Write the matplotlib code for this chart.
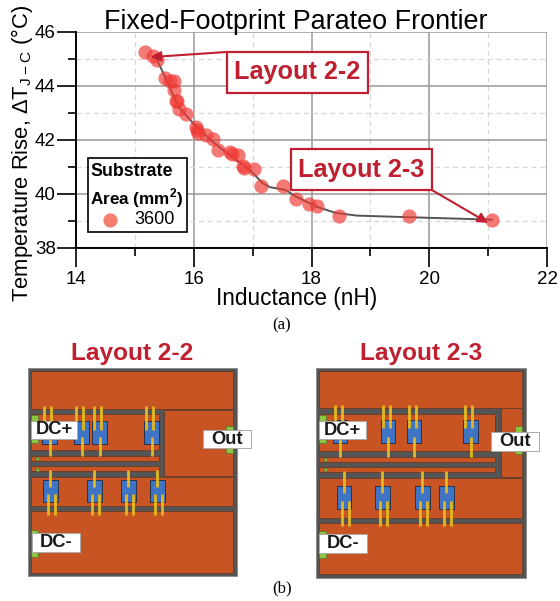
import matplotlib
matplotlib.use('Agg')
import matplotlib.pyplot as plt
from matplotlib.patches import Rectangle

plt.rcParams['font.family'] = ['Liberation Sans', 'DejaVu Sans']
plt.rcParams['mathtext.fontset'] = 'custom'
plt.rcParams['mathtext.rm'] = 'Liberation Sans'
plt.rcParams['mathtext.bf'] = 'Liberation Sans:bold'

inductance = [15.18, 15.30, 15.38, 15.52, 15.59, 15.67, 15.67, 15.70, 15.72, 15.75, 15.86,
              16.04, 16.06, 16.08, 16.21, 16.32, 16.42, 16.62, 16.65, 16.76, 16.83, 16.86,
              17.02, 17.15, 17.51, 17.73, 17.96, 18.10, 18.47, 19.65, 21.07]
temp_rise = [45.26, 45.10, 44.95, 44.31, 44.20, 44.19, 43.86, 43.45, 43.43, 43.16, 42.98,
             42.48, 42.38, 42.26, 42.20, 42.02, 41.64, 41.56, 41.50, 41.43, 41.03, 40.96,
             40.91, 40.28, 40.28, 39.83, 39.64, 39.54, 39.19, 39.18, 39.05]
front_x = [15.38, 15.50, 15.74, 15.99, 16.35, 16.65, 16.96, 17.17, 17.30, 17.56, 17.74, 18.10,
           18.41, 18.77, 19.65, 21.07]
front_y = [44.95, 44.40, 43.23, 42.62, 41.88, 41.38, 40.88, 40.40, 40.25, 40.15, 39.90, 39.52,
           39.30, 39.20, 39.14, 39.05]
x_ticks = [14, 16, 18, 20, 22]
y_ticks = [38, 40, 42, 44, 46]
x_minor = [15, 17, 19, 21]
y_minor = [39, 41, 43, 45]

layout_22 = {
    'offset': (0, 335), 'outer': (84, 710, 98, 724), 'title_x': 397,
    'copper': [(93, 700, 108, 223), (491, 700, 224, 424), (93, 476, 238, 346), (93, 476, 362, 377),
               (93, 476, 393, 408), (93, 700, 425, 513), (93, 700, 528, 715)],
    'pads': [(93, 115, 241, 323), (93, 115, 584, 665), (678, 700, 272, 355), (109, 117, 367, 376), (109, 117, 398, 407)],
    'top_chips': [127, 223, 277, 433], 'top_y': (259, 326),
    'bot_chips': [130, 262, 364, 451], 'bot_y': (434, 502),
    'top_pair_y': (213, 285), 'top_one_y': (305, 363), 'bot_one_y': (406, 455), 'bot_pair_y': (478, 539),
    'labels': [('DC+', 94, 232, 258, 312), ('Out', 610, 753, 284, 340), ('DC-', 97, 240, 595, 651)],
    'name': 'Layout 2-2',
}
layout_23 = {
    'offset': (280, 335), 'outer': (107, 737, 98, 728), 'title_x': 423,
    'copper': [(117, 727, 108, 218), (663, 727, 218, 427), (117, 646, 236, 348), (117, 646, 365, 380),
               (117, 646, 396, 411), (117, 727, 428, 548), (117, 727, 565, 718)],
    'pads': [(117, 139, 241, 325), (117, 139, 587, 669), (706, 727, 274, 356), (133, 141, 369, 378), (133, 141, 400, 409)],
    'top_chips': [158, 303, 380, 550], 'top_y': (256, 325),
    'bot_chips': [170, 286, 406, 478], 'bot_y': (454, 522),
    'top_pair_y': (209, 280), 'top_one_y': (305, 366), 'bot_one_y': (409, 475), 'bot_pair_y': (497, 574),
    'labels': [('DC+', 118, 258, 259, 313), ('Out', 632, 776, 290, 347), ('DC-', 118, 260, 598, 654)],
    'name': 'Layout 2-3',
}

CRIMSON = '#c01f30'

fig = plt.figure(figsize=(5.6, 6.01), dpi=100)
W, H = 560, 601
ax = fig.add_axes([76 / W, 1 - 248 / H, 471 / W, 216 / H])
ax.set_xlim(14, 22)
ax.set_ylim(38, 46)
ax.set_xticks(x_ticks)
ax.set_yticks(y_ticks)
ax.set_xticks(x_minor, minor=True)
ax.set_yticks(y_minor, minor=True)
ax.grid(True, which='major', color='#999999', lw=1.1)
ax.grid(True, which='minor', color='#d6d6d6', lw=0.9, ls=(0, (4, 3)))
ax.set_axisbelow(True)
ax.spines['top'].set_visible(False)
ax.spines['right'].set_visible(False)
ax.spines['left'].set_linewidth(1.4)
ax.spines['bottom'].set_linewidth(1.4)
ax.tick_params(which='major', length=13.5, width=1.2, labelsize=13.5, pad=1)
ax.tick_params(which='minor', length=6, width=1.2)
ax.tick_params(axis='x', which='major', pad=3)
ax.plot(front_x, front_y, color='#555555', lw=1.4, zorder=3)
ax.scatter(inductance, temp_rise, s=105, color='#ef3b36', alpha=0.68, linewidths=0, zorder=4, clip_on=False)
ax.annotate('', xy=(15.27, 45.07), xytext=(16.56, 45.26), zorder=6,
            arrowprops=dict(arrowstyle='-|>,head_length=0.6,head_width=0.3', color=CRIMSON, lw=1.5, shrinkA=0, shrinkB=0))
ax.annotate('', xy=(21.0, 38.93), xytext=(20.05, 40.14), zorder=6,
            arrowprops=dict(arrowstyle='-|>,head_length=0.6,head_width=0.3', color=CRIMSON, lw=1.5, shrinkA=0, shrinkB=0))

# pixel overlay for titles, boxes and the two schematics
ov = fig.add_axes([0, 0, 1, 1])
ov.set_xlim(0, W)
ov.set_ylim(H, 0)
ov.axis('off')
ov.patch.set_alpha(0)


def box(x0, x1, y0, y1, **kw):
    ov.add_patch(Rectangle((x0, y0), x1 - x0, y1 - y0, **kw))


ov.text(296, 22, 'Fixed-Footprint Parateo Frontier', fontsize=19.4, ha='center', va='center')
ov.text(297, 299, 'Inductance (nH)', fontsize=16.3, ha='center', va='center')
ov.text(22, 153, 'Temperature Rise, \u0394T$_{\\mathrm{J-C}}$ (\u00b0C)', fontsize=15.8, rotation=90, ha='center', va='center')
ov.text(282, 325, '(a)', fontsize=12, family='Liberation Serif', ha='center', va='center')
ov.text(282, 588, '(b)', fontsize=12, family='Liberation Serif', ha='center', va='center')

for name, x0, x1, y0, y1 in [('Layout 2-2', 227, 368, 52, 93), ('Layout 2-3', 291, 432, 149, 190)]:
    box(x0, x1, y0, y1, fc='white', ec=CRIMSON, lw=1.6, zorder=5)
    ov.text((x0 + x1) / 2, (y0 + y1) / 2, name, color=CRIMSON, fontsize=18.2, fontweight='bold',
            ha='center', va='center', zorder=6)

box(87.5, 187, 158, 232, fc='white', ec='black', lw=1.2, zorder=5)
ov.text(90, 172, 'Substrate', fontsize=12.8, fontweight='bold', va='center', zorder=6)
ov.text(90, 198, 'Area (mm$^{\\mathbf{2}}$)', fontsize=12.3, fontweight='bold', va='center', zorder=6)
ov.scatter([110], [220], s=105, color='#f6806f', linewidths=0, zorder=6)
ov.text(155, 220, '3600', fontsize=13, ha='center', va='center', zorder=6)


def draw_layout(lay):
    ox, oy = lay['offset']

    def zbox(x0, x1, y0, y1, **kw):
        box(ox + x0 / 3, ox + x1 / 3, oy + y0 / 3, oy + y1 / 3, **kw)

    def wire(x, ys):
        ov.plot([ox + x / 3, ox + x / 3], [oy + ys[0] / 3, oy + ys[1] / 3], color='#e3b81e', lw=2.0,
                solid_capstyle='butt', zorder=5)

    a, b, c, d = lay['outer']
    zbox(a, b, c, d, fc='#555555', ec='#888888', lw=0.6, zorder=2)
    for r in lay['copper']:
        zbox(*r, fc='#c85424', ec='#6a3a28', lw=0.6, zorder=3)
    for r in lay['pads']:
        zbox(*r, fc='#8cc63f', ec='#55702a', lw=0.5, zorder=3.5)
    for x in lay['top_chips']:
        zbox(x, x + 43, *lay['top_y'], fc='#3f74c4', ec='#26334d', lw=0.7, zorder=4)
        wire(x + 6, lay['top_pair_y'])
        wire(x + 27, lay['top_pair_y'])
        wire(x + 22, lay['top_one_y'])
    for x in lay['bot_chips']:
        zbox(x, x + 43, *lay['bot_y'], fc='#3f74c4', ec='#26334d', lw=0.7, zorder=4)
        wire(x + 21, lay['bot_one_y'])
        wire(x + 15, lay['bot_pair_y'])
        wire(x + 36, lay['bot_pair_y'])
    for text, x0, x1, y0, y1 in lay['labels']:
        zbox(x0, x1, y0, y1, fc='white', ec='#aaaaaa', lw=0.7, zorder=6)
        ov.text(ox + (x0 + x1) / 6, oy + (y0 + y1) / 6, text, fontsize=13.2, fontweight='bold',
                ha='center', va='center', zorder=7, color='#1a1a1a')
    ov.text(ox + lay['title_x'] / 3, oy + 55 / 3, lay['name'], color=CRIMSON, fontsize=17.6,
            fontweight='bold', ha='center', va='center')


draw_layout(layout_22)
draw_layout(layout_23)

fig.savefig('out.png', dpi=100)
